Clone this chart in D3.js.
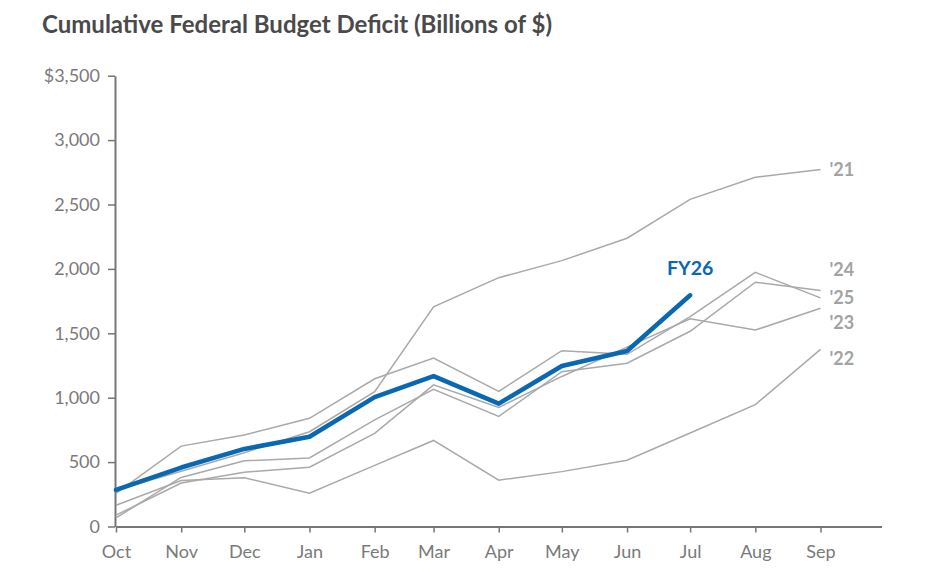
<!DOCTYPE html>
<html>
<head>
<meta charset="utf-8">
<script src="https://cdn.jsdelivr.net/npm/d3@7.9.0/dist/d3.min.js"></script>
<style>
  html, body { margin: 0; padding: 0; background: #fff; }
  svg { display: block; font-family: Lato, sans-serif; }
  .axis path, .axis line { stroke: #767676; }
  .axis text { fill: #7a7a7a; font-size: 18px; font-family: Lato, sans-serif; }
</style>
</head>
<body>
<svg id="chart" width="940" height="585"></svg>
<script>
// month labels, fiscal year Oct..Sep
const months = ['Oct', 'Nov', 'Dec', 'Jan', 'Feb', 'Mar', 'Apr', 'May', 'Jun', 'Jul', 'Aug', 'Sep'];
const yTicks = [0, 500, 1000, 1500, 2000, 2500, 3000, 3500];

// cumulative deficit, billions of $
const fy21 = [284, 429, 573, 736, 1047, 1706, 1932, 2064, 2238, 2540, 2711, 2772];
const fy22 = [165, 357, 378, 259, 475, 668, 360, 426, 515, 726, 946, 1375];
const fy23 = [88, 337, 421, 460, 723, 1100, 925, 1165, 1393, 1613, 1525, 1695];
const fy24 = [67, 381, 510, 532, 828, 1065, 855, 1202, 1268, 1516, 1897, 1833];
const fy25 = [257, 624, 711, 840, 1147, 1307, 1049, 1365, 1337, 1629, 1973, 1775];
const fy26 = [284, 458, 602, 697, 1004, 1168, 954, 1246, 1363, 1795];

const pastYears = [
  { name: "'21", values: fy21 },
  { name: "'22", values: fy22 },
  { name: "'23", values: fy23 },
  { name: "'24", values: fy24 },
  { name: "'25", values: fy25 },
];

// end labels are nudged apart where they would collide
const labelNudge = { "'21": 0, "'22": 9, "'23": 15, "'24": -21, "'25": 0 };

const monthDate = i => new Date(2025, 9 + i, 1);

const svg = d3.select('#chart');

svg.append('text')
  .attr('x', 42)
  .attr('y', 33)
  .attr('fill', '#4a4a4a')
  .style('font-size', '24px')
  .style('font-weight', 700)
  .text('Cumulative Federal Budget Deficit (Billions of $)');

const x = d3.scaleTime()
  .domain([new Date(2025, 9, 1), new Date(2026, 8, 30)])
  .range([116, 881.5]);

const y = d3.scaleLinear()
  .domain([0, 3500])
  .range([526.5, 75.7]);

// axes
const yAxis = svg.append('g')
  .attr('class', 'axis')
  .attr('transform', 'translate(115,0)')
  .call(d3.axisLeft(y)
    .tickValues(yTicks)
    .tickSize(7)
    .tickSizeOuter(0)
    .tickPadding(8)
    .tickFormat(d => d === 3500 ? '$3,500' : d3.format(',')(d)));
yAxis.select('.domain').attr('stroke-width', 2);
yAxis.selectAll('.tick line').attr('stroke-width', 1.5);

const xAxis = svg.append('g')
  .attr('class', 'axis')
  .attr('transform', 'translate(0,526.5)')
  .call(d3.axisBottom(x)
    .tickValues(months.map((m, i) => monthDate(i)))
    .tickSize(6)
    .tickSizeOuter(0)
    .tickPadding(13)
    .tickFormat((d, i) => months[i]));
xAxis.select('.domain').attr('stroke-width', 2);
xAxis.selectAll('.tick line').attr('stroke-width', 1.5);

const line = d3.line()
  .x((d, i) => x(monthDate(i)))
  .y(d => y(d));

// previous years, grey
svg.append('g')
  .selectAll('path')
  .data(pastYears)
  .join('path')
    .attr('d', d => line(d.values))
    .attr('fill', 'none')
    .attr('stroke', '#a9a9a9')
    .attr('stroke-width', 1.5);

svg.append('g')
  .selectAll('text')
  .data(pastYears)
  .join('text')
    .attr('x', x(monthDate(11)) + 9)
    .attr('y', d => y(d.values[11]) + labelNudge[d.name])
    .attr('dy', '0.35em')
    .attr('fill', '#a3a3a3')
    .style('font-size', '18px')
    .style('font-weight', 700)
    .text(d => d.name);

// current year
svg.append('path')
  .attr('d', line(fy26))
  .attr('fill', 'none')
  .attr('stroke', '#0a67b1')
  .attr('stroke-width', 4.5)
  .attr('stroke-linecap', 'round')
  .attr('stroke-linejoin', 'round');

const last = fy26.length - 1;
svg.append('text')
  .attr('x', x(monthDate(last)))
  .attr('y', y(fy26[last]) - 20)
  .attr('text-anchor', 'middle')
  .attr('fill', '#0a67b1')
  .style('font-size', '19.5px')
  .style('font-weight', 700)
  .text('FY26');
</script>
</body>
</html>
